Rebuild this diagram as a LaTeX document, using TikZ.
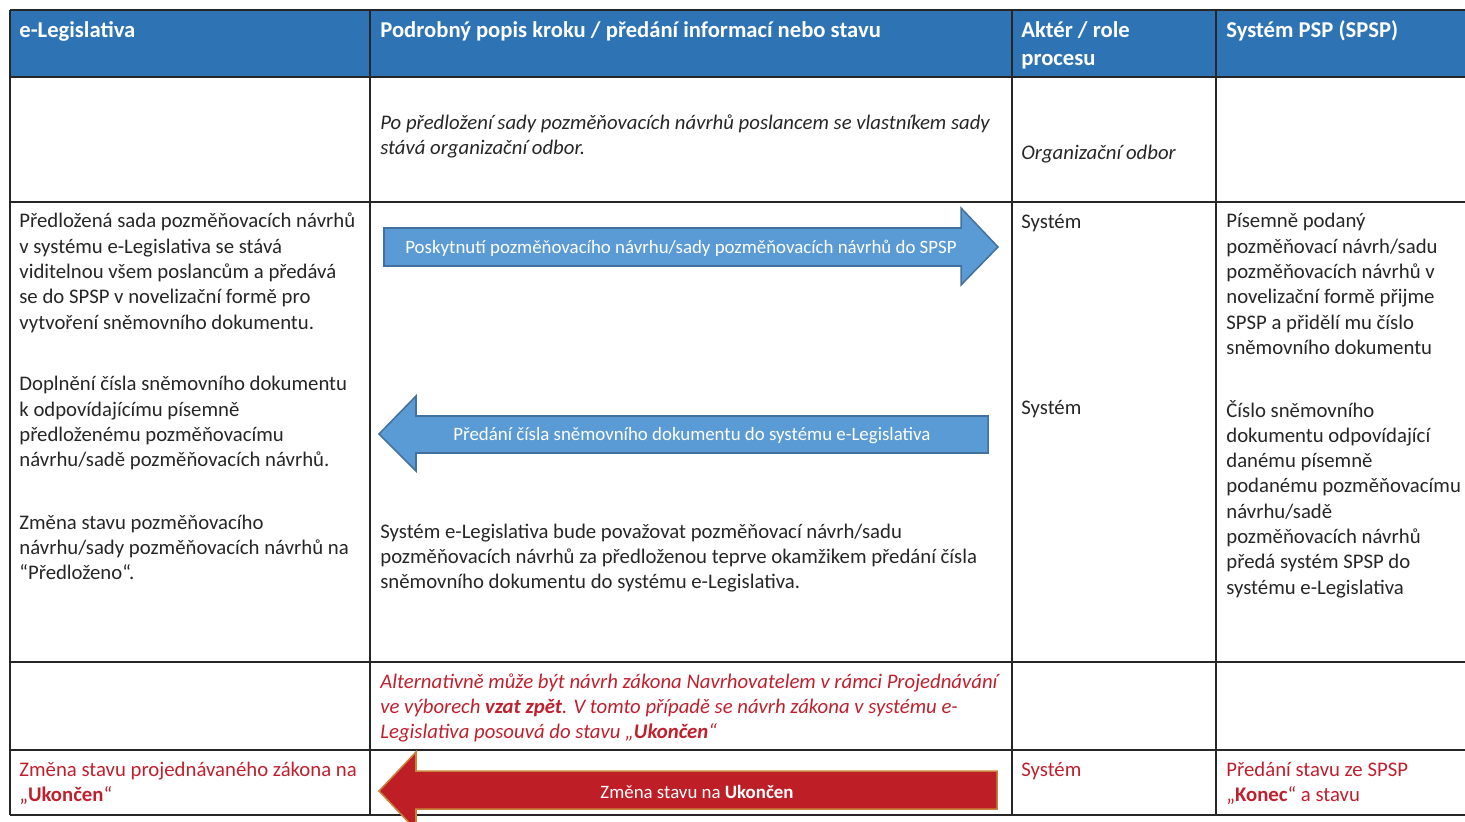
\documentclass[tikz,border=0pt]{standalone}
\usepackage{fontspec}
\setmainfont{Carlito}
\definecolor{headblue}{HTML}{2E74B5}
\definecolor{arrowblue}{HTML}{5B9BD5}
\definecolor{arrowedge}{HTML}{41719C}
\definecolor{alertred}{HTML}{C0202E}
\definecolor{arrowred}{HTML}{BE1E25}
\definecolor{rededge}{HTML}{C8843C}
\tikzset{
  cell/.style={anchor=base west, inner sep=0pt, align=left, text=black!85,
    font=\fontsize{11}{13.4}\selectfont},
  headcell/.style={cell, text=white, font=\fontsize{12}{14.6}\selectfont\bfseries},
  alertcell/.style={cell, text=alertred},
  arrowtext/.style={inner sep=0pt, text=white, font=\fontsize{10}{12}\selectfont},
  gridline/.style={line width=0.6pt, black!85},
}
\begin{document}
\begin{tikzpicture}[x=0.53pt, y=-0.53pt]
  \useasboundingbox (0,0) rectangle (1465,822);
  % header band and grid
  \fill[headblue] (10,10) rectangle (1465,77);
  \foreach \yy in {10,77,202,662,750,815}
    \draw[gridline] (10,\yy) -- (1465,\yy);
  \foreach \xx in {10,370,1012,1216}
    \draw[gridline] (\xx,10) -- (\xx,815);

  % header (multi-line nodes sit on the baseline of their last line)
  \node[headcell] (hLeg) at (19,38) {e-Legislativa};
  \node[headcell] (hDesc) at (380,38) {Podrobný popis kroku / předání informací nebo stavu};
  \node[headcell] (hRole) at (1021,65.5) {Aktér / role\\procesu};
  \node[headcell] (hSpsp) at (1226,38) {Systém PSP (SPSP)};

  % row 1
  \node[cell, font=\fontsize{11}{13.4}\selectfont\itshape] (ownText) at (380,154.3)
    {Po předložení sady pozměňovacích návrhů poslancem se vlastníkem sady\\stává organizační odbor.};
  \node[cell, font=\fontsize{11}{13.4}\selectfont\itshape] (ownRole) at (1021,160) {Organizační odbor};

  % row 2
  \node[cell] (legA) at (19,329.1) {Předložená sada pozměňovacích návrhů\\v systému e-Legislativa se stává\\viditelnou všem poslancům a předává\\se do SPSP v novelizační formě pro\\vytvoření sněmovního dokumentu.};
  \node[cell] (legB) at (19,466.8) {Doplnění čísla sněmovního dokumentu\\k odpovídajícímu písemně\\předloženému pozměňovacímu\\návrhu/sadě pozměňovacích návrhů.};
  \node[cell] (legC) at (19,579.6) {Změna stavu pozměňovacího\\návrhu/sady pozměňovacích návrhů na\\“Předloženo“.};
  \node[cell] (descNote) at (380,588.6) {Systém e-Legislativa bude považovat pozměňovací návrh/sadu\\pozměňovacích návrhů za předloženou teprve okamžikem předání čísla\\sněmovního dokumentu do systému e-Legislativa.};
  \node[cell] (roleA) at (1021,228) {Systém};
  \node[cell] (roleB) at (1021,414) {Systém};
  \node[cell] (spspA) at (1226,354.4) {Písemně podaný\\pozměňovací návrh/sadu\\pozměňovacích návrhů v\\novelizační formě přijme\\SPSP a přidělí mu číslo\\sněmovního dokumentu};
  \node[cell] (spspB) at (1226,594) {Číslo sněmovního\\dokumentu odpovídající\\danému písemně\\podanému pozměňovacímu\\návrhu/sadě\\pozměňovacích návrhů\\předá systém SPSP do\\systému e-Legislativa};

  % block arrows
  \filldraw[fill=arrowblue, draw=arrowedge, line width=0.8pt]
    (384,228) -- (961,228) -- (961,208) -- (998,247) -- (961,285) -- (961,266) -- (384,266) -- cycle;
  \node[arrowtext] (toSpsp) at (681,248) {Poskytnutí pozměňovacího návrhu/sady pozměňovacích návrhů do SPSP};
  \filldraw[fill=arrowblue, draw=arrowedge, line width=0.8pt]
    (988,416) -- (416,416) -- (416,396) -- (379,434) -- (416,471) -- (416,453) -- (988,453) -- cycle;
  \node[arrowtext] (toLeg) at (692,436) {Předání čísla sněmovního dokumentu do systému e-Legislativa};

  % rows 3 and 4
  \node[alertcell, font=\fontsize{11}{13.4}\selectfont\itshape] (altText) at (380,738.6)
    {Alternativně může být návrh zákona Navrhovatelem v rámci Projednávání\\ve výborech \textbf{vzat zpět}. V tomto případě se návrh zákona v systému e-\\Legislativa posouvá do stavu „\textbf{Ukončen}“};
  \node[alertcell] (endLeg) at (19,801.3) {Změna stavu projednávaného zákona na\\„\textbf{Ukončen}“};
  \node[alertcell] (endRole) at (1021,776) {Systém};
  \node[alertcell] (endSpsp) at (1226,801.3) {Předání stavu ze SPSP\\„\textbf{Konec}“ a stavu};
  \filldraw[fill=arrowred, draw=rededge, line width=0.8pt]
    (997,771) -- (416,771) -- (416,752) -- (379,791) -- (416,830) -- (416,809) -- (997,809) -- cycle;
  \node[arrowtext] (toEnd) at (697,792) {Změna stavu na \textbf{Ukončen}};
\end{tikzpicture}
\end{document}
